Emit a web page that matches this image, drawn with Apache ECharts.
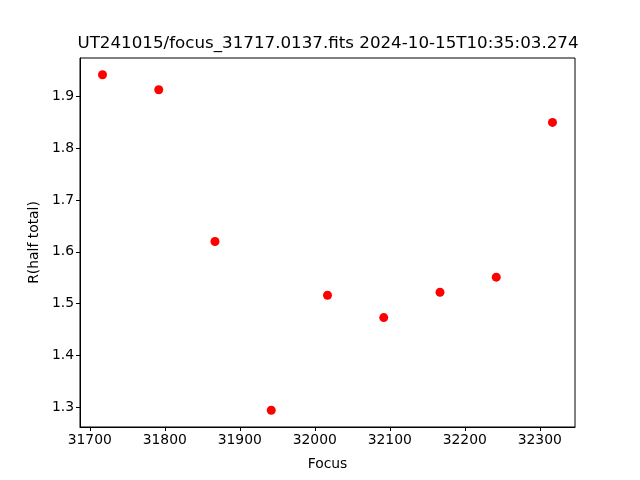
<!DOCTYPE html>
<html>
<head>
<meta charset="utf-8">
<script src="https://cdn.jsdelivr.net/npm/echarts@6/dist/echarts.min.js"></script>
<style>html,body{margin:0;padding:0;background:#fff}#c{width:640px;height:480px}</style>
</head>
<body>
<div id="c"></div>
<script>
const focusValues = [31717, 31792, 31867, 31942, 32017, 32092, 32167, 32242, 32317];
const rHalfTotal = [1.942, 1.913, 1.620, 1.294, 1.516, 1.473, 1.522, 1.551, 1.850];
const xTicks = [31700, 31800, 31900, 32000, 32100, 32200, 32300];
const yTicks = [1.3, 1.4, 1.5, 1.6, 1.7, 1.8, 1.9];
const titleText = 'UT241015/focus_31717.0137.fits 2024-10-15T10:35:03.274';

const xmin0 = Math.min(...focusValues), xmax0 = Math.max(...focusValues);
const ymin0 = Math.min(...rHalfTotal), ymax0 = Math.max(...rHalfTotal);
const xpad = (xmax0 - xmin0) * 0.05, ypad = (ymax0 - ymin0) * 0.05;

const font = 'DejaVu Sans';
const chart = echarts.init(document.getElementById('c'), null, {renderer: 'canvas'});
chart.setOption({
  animation: false,
  backgroundColor: '#fff',
  grid: {left: 80, right: 65, top: 58, bottom: 53, show: true, borderColor: '#000', borderWidth: 1, backgroundColor: 'transparent'},
  xAxis: {
    type: 'value', min: xmin0 - xpad, max: xmax0 + xpad,
    splitLine: {show: false},
    axisLine: {show: true, onZero: false, lineStyle: {color: '#000', width: 1}},
    axisTick: {show: true, length: 4, inside: false, customValues: xTicks, lineStyle: {color: '#000'}},
    axisLabel: {customValues: xTicks, color: '#000', fontFamily: font, fontSize: 13.9, margin: 6, formatter: v => String(Math.round(v))},
    name: 'Focus', nameLocation: 'middle', nameGap: 30,
    nameTextStyle: {color: '#000', fontFamily: font, fontSize: 13.9}
  },
  yAxis: {
    type: 'value', min: ymin0 - ypad, max: ymax0 + ypad,
    splitLine: {show: false},
    axisLine: {show: true, onZero: false, lineStyle: {color: '#000', width: 1}},
    axisTick: {show: true, length: 4, inside: false, customValues: yTicks, lineStyle: {color: '#000'}},
    axisLabel: {customValues: yTicks, color: '#000', fontFamily: font, fontSize: 13.9, margin: 6, formatter: v => v.toFixed(1)},
    name: 'R(half total)', nameLocation: 'middle', nameGap: 38, nameRotate: 90,
    nameTextStyle: {color: '#000', fontFamily: font, fontSize: 13.9}
  },
  series: [{
    type: 'scatter',
    data: focusValues.map((x, i) => [x, rHalfTotal[i]]),
    symbol: 'circle', symbolSize: 9,
    itemStyle: {color: '#ff0000', opacity: 1},
    silent: true
  }],
  graphic: [{
    type: 'text', x: 328, y: 44,
    style: {text: titleText, fill: '#000', font: '16.7px "DejaVu Sans"', textAlign: 'center', textVerticalAlign: 'middle'}
  }]
});
</script>
</body>
</html>
